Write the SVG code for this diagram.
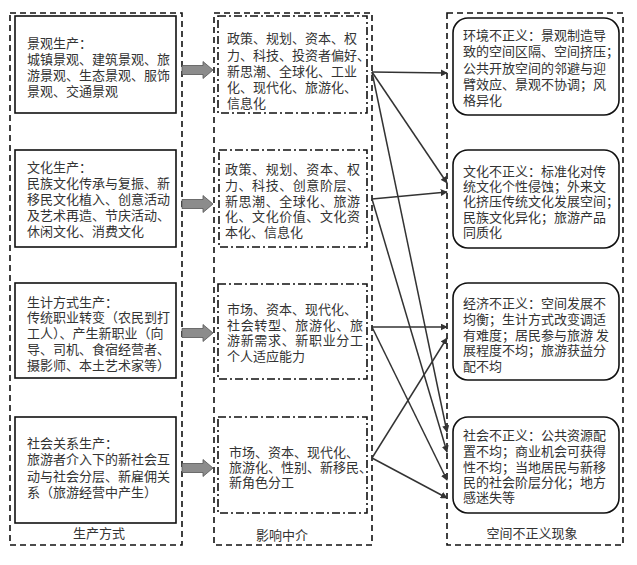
<svg xmlns="http://www.w3.org/2000/svg" width="637" height="565" viewBox="0 0 637 565">
<defs>
<style>
.outer{fill:none;stroke:#111;stroke-width:1.6;stroke-dasharray:6,4}
.lbox{fill:#fff;stroke:#111;stroke-width:1.6}
.mbox{fill:none;stroke:#111;stroke-width:1.6;stroke-dasharray:8,3,2,3}
.rbox{fill:#fff;stroke:#111;stroke-width:1.6}
text{font-family:"Noto Sans CJK SC","Noto Sans",sans-serif;font-size:13px;fill:#333}
.lab{text-anchor:middle}
.blk{fill:#8c8c8c;stroke:#555;stroke-width:0.8}
.con{stroke:#333;stroke-width:1.5;fill:none;marker-end:url(#ah)}
</style>
<marker id="ah" viewBox="0 0 10 10" refX="9" refY="5" markerWidth="7" markerHeight="7" markerUnits="userSpaceOnUse" orient="auto">
<path d="M0,0 L10,5 L0,10 z" fill="#333"/>
</marker>
<path id="blk" d="M0,-4.5 L21,-4.5 L21,-8.5 L31,0 L21,8.5 L21,4.5 L0,4.5 z"/>
</defs>

<g id="col-left">
<rect class="outer" x="10" y="13" width="172" height="532"/>
<text class="lab" x="99" y="538">生产方式</text>
</g>
<g id="col-mid">
<rect class="outer" x="214" y="13" width="158" height="532"/>
<text class="lab" x="282" y="540">影响中介</text>
</g>
<g id="col-right">
<rect class="outer" x="447" y="13" width="176" height="532"/>
<text class="lab" x="532" y="538">空间不正义现象</text>
</g>

<g id="L1">
<rect class="lbox" x="15" y="16" width="161" height="97"/>
<text x="27" y="48">景观生产：</text>
<text x="27" y="64">城镇景观、建筑景观、旅</text>
<text x="27" y="80">游景观、生态景观、服饰</text>
<text x="27" y="96">景观、交通景观</text>
</g>
<g id="L2">
<rect class="lbox" x="15" y="150" width="161" height="97"/>
<text x="27" y="172">文化生产：</text>
<text x="27" y="188">民族文化传承与复振、新</text>
<text x="27" y="204">移民文化植入、创意活动</text>
<text x="27" y="220">及艺术再造、节庆活动、</text>
<text x="27" y="236">休闲文化、消费文化</text>
</g>
<g id="L3">
<rect class="lbox" x="15" y="283" width="161" height="95"/>
<text x="27" y="307">生计方式生产：</text>
<text x="27" y="322">传统职业转变（农民到打</text>
<text x="27" y="338">工人）、产生新职业（向</text>
<text x="27" y="354">导、司机、食宿经营者、</text>
<text x="27" y="370">摄影师、本土艺术家等）</text>
</g>
<g id="L4">
<rect class="lbox" x="15" y="417" width="161" height="106"/>
<text x="27" y="448">社会关系生产：</text>
<text x="27" y="464">旅游者介入下的新社会互</text>
<text x="27" y="481">动与社会分层、新雇佣关</text>
<text x="27" y="497">系（旅游经营中产生）</text>
</g>

<g id="M1">
<rect class="mbox" x="218" y="16" width="149" height="97"/>
<text x="227" y="43">政策、规划、资本、权</text>
<text x="227" y="60">力、科技、投资者偏好、</text>
<text x="227" y="76">新思潮、全球化、工业</text>
<text x="227" y="92">化、现代化、旅游化、</text>
<text x="227" y="108">信息化</text>
</g>
<g id="M2">
<rect class="mbox" x="219" y="150" width="148" height="97"/>
<text x="225" y="174" textLength="135" lengthAdjust="spacing">政策、规划、资本、权</text>
<text x="225" y="190" textLength="135" lengthAdjust="spacing">力、科技、创意阶层、</text>
<text x="225" y="206" textLength="135" lengthAdjust="spacing">新思潮、全球化、旅游</text>
<text x="225" y="221" textLength="135" lengthAdjust="spacing">化、文化价值、文化资</text>
<text x="225" y="237">本化、信息化</text>
</g>
<g id="M3">
<rect class="mbox" x="218" y="284" width="149" height="95"/>
<text x="227" y="314">市场、资本、现代化、</text>
<text x="227" y="330" textLength="136" lengthAdjust="spacing">社会转型、旅游化、旅</text>
<text x="227" y="345" textLength="136" lengthAdjust="spacing">游新需求、新职业分工</text>
<text x="227" y="361">个人适应能力</text>
</g>
<g id="M4">
<rect class="mbox" x="218" y="417" width="149" height="96"/>
<text x="229" y="457">市场、资本、现代化、</text>
<text x="229" y="472">旅游化、性别、新移民、</text>
<text x="229" y="487">新角色分工</text>
</g>

<g id="R1">
<rect class="rbox" x="453" y="18" width="166" height="97" rx="15"/>
<text x="463" y="40">环境不正义：景观制造导</text>
<text x="463" y="56">致的空间区隔、空间挤压；</text>
<text x="463" y="73">公共开放空间的邻避与迎</text>
<text x="463" y="89">臂效应、景观不协调；风</text>
<text x="463" y="105">格异化</text>
</g>
<g id="R2">
<rect class="rbox" x="453" y="150" width="166" height="98" rx="15"/>
<text x="463" y="176">文化不正义：标准化对传</text>
<text x="463" y="191">统文化个性侵蚀；外来文</text>
<text x="463" y="206">化挤压传统文化发展空间；</text>
<text x="463" y="222">民族文化异化；旅游产品</text>
<text x="463" y="237">同质化</text>
</g>
<g id="R3">
<rect class="rbox" x="453" y="283" width="166" height="97" rx="15"/>
<text x="463" y="308">经济不正义：空间发展不</text>
<text x="463" y="324">均衡；生计方式改变调适</text>
<text x="463" y="340">有难度；居民参与旅游 发</text>
<text x="463" y="355">展程度不均；旅游获益分</text>
<text x="463" y="371">配不均</text>
</g>
<g id="R4">
<rect class="rbox" x="453" y="417" width="166" height="96" rx="15"/>
<text x="463" y="440">社会不正义：公共资源配</text>
<text x="463" y="456">置不均；商业机会可获得</text>
<text x="463" y="472">性不均；当地居民与新移</text>
<text x="463" y="487">民的社会阶层分化；地方</text>
<text x="463" y="502">感迷失等</text>
</g>

<g id="connectors">
<use href="#blk" class="blk" x="182" y="70"/>
<use href="#blk" class="blk" x="182" y="204"/>
<use href="#blk" class="blk" x="182" y="333"/>
<use href="#blk" class="blk" x="182" y="468"/>
<line class="con" x1="372" y1="72" x2="447" y2="73"/>
<line class="con" x1="372" y1="72" x2="447" y2="183"/>
<line class="con" x1="372" y1="72" x2="447" y2="432"/>
<line class="con" x1="372" y1="199" x2="447" y2="192"/>
<line class="con" x1="372" y1="199" x2="447" y2="452"/>
<line class="con" x1="372" y1="327" x2="447" y2="327"/>
<line class="con" x1="372" y1="327" x2="447" y2="480"/>
<line class="con" x1="372" y1="458" x2="447" y2="338"/>
<line class="con" x1="372" y1="458" x2="447" y2="498"/>
</g>
</svg>
